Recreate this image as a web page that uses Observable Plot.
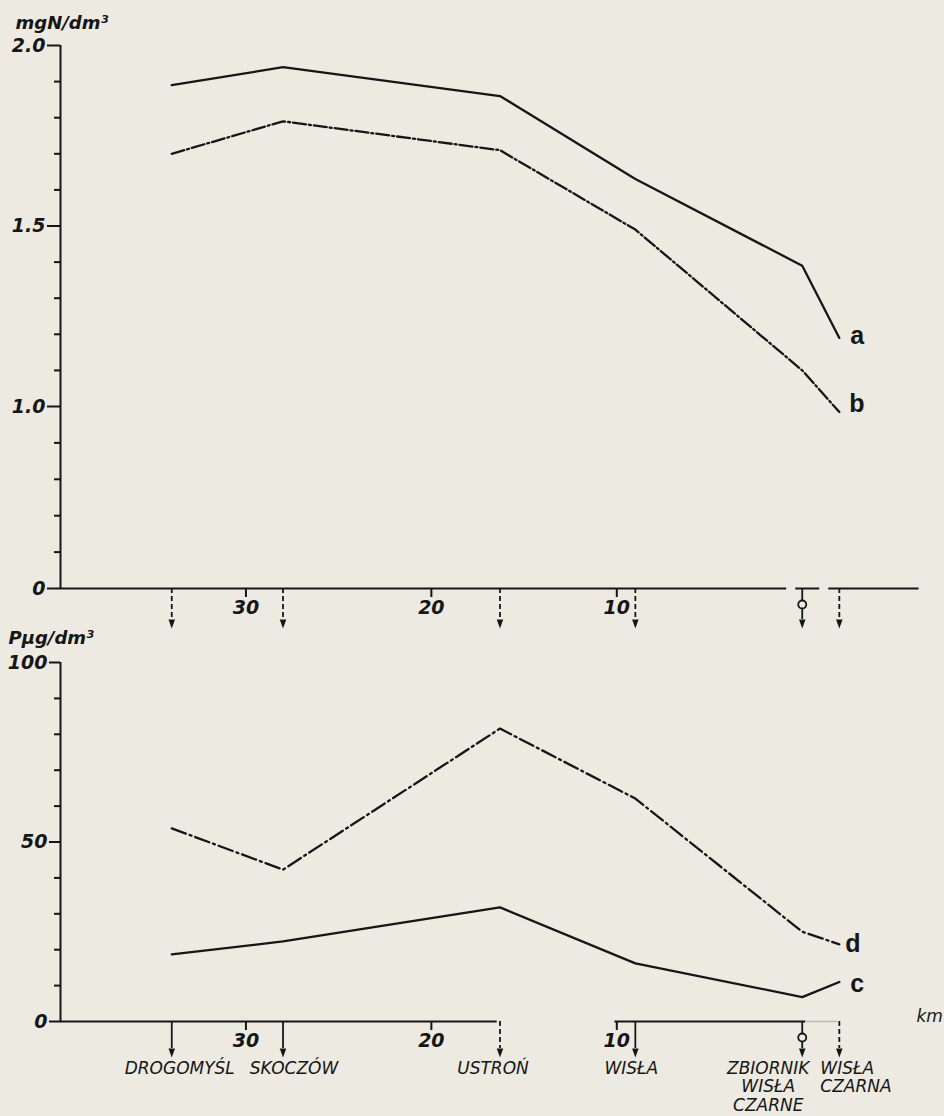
<!DOCTYPE html>
<html>
<head>
<meta charset="utf-8">
<script src="https://cdn.jsdelivr.net/npm/d3@7"></script>
<script src="https://cdn.jsdelivr.net/npm/@observablehq/plot@0.6"></script>
<style>
  html, body { margin: 0; padding: 0; background: #eceae1; }
  #wrap { position: relative; width: 944px; height: 1116px; overflow: hidden; }
  #top, #bottom { position: absolute; left: 0; }
  #top { top: 0; }
  #bottom { top: 600px; }
  svg { overflow: visible; background: transparent; }
</style>
</head>
<body>
<div id="wrap"><div id="top"></div><div id="bottom"></div></div>
<script>
// ---- data ----
const stations = ["DROGOMYŚL", "SKOCZÓW", "USTROŃ", "WISŁA", "ZBIORNIK\nWISŁA\nCZARNE", "WISŁA\nCZARNA"];
const stationKm = [34, 28, 16.3, 9.0, 0, -2];
const nitrogenA = [1.89, 1.94, 1.86, 1.63, 1.39, 1.19];
const nitrogenB = [1.70, 1.79, 1.71, 1.49, 1.10, 0.97];
const phosphorusC = [18.7, 22.3, 31.8, 16.2, 6.8, 11.0];
const phosphorusD = [53.8, 42.3, 81.6, 62.1, 25.0, 21.5];
const kmTicks = [30, 20, 10];
const nMajorTicks = [0, 1, 1.5, 2];
const nMajorLabels = ["0", "1.0", "1.5", "2.0"];
const nMinorTicks = [0.2, 0.4, 0.6, 0.8, 1.1, 1.2, 1.3, 1.4, 1.6, 1.7, 1.8, 1.9];
const pMajorTicks = [0, 50, 100];
const pMinorTicks = [10, 20, 30, 40, 60, 70, 80, 90];
const xDomain = [40, -6];
const nDomain = [0, 1, 2];
const pDomain = [0, 100];
const topAxisSegments = [[40, 0.84], [0.35, -0.94], [-1.43, -6.3]];
const bottomAxisSegments = [[40, 16.45], [10.1, -0.19]];
const bottomAxisBreak = [[-0.19, -1.9]];

// ---- styling ----
const INK = "#161616";
const BG = "#eceae1";
const FONT = "DejaVu Sans";
const rows = stations.map((s, i) => ({station: s, km: stationKm[i], a: nitrogenA[i], b: nitrogenB[i], c: phosphorusC[i], d: phosphorusD[i]}));
const last = rows[rows.length - 1];
const reservoir = rows.filter(r => r.station.startsWith("ZBIORNIK"));
const downTriangle = {
  draw(context, size) {
    const r = Math.sqrt(size / Math.PI);
    context.moveTo(-0.72 * r, -r);
    context.lineTo(0.72 * r, -r);
    context.lineTo(0, r);
    context.closePath();
  }
};
const tickText = {fontSize: 19, fontStyle: "italic", fontWeight: "bold", fontFamily: FONT};

function stationArrows(frameH, lineLen, dashedSet) {
  const solid = rows.filter(r => !dashedSet.has(r.station));
  const dashed = rows.filter(r => dashedSet.has(r.station));
  return [
    Plot.ruleX(solid, {x: "km", insetTop: frameH, insetBottom: -lineLen, stroke: INK, strokeWidth: 1.8}),
    Plot.ruleX(dashed, {x: "km", insetTop: frameH, insetBottom: -lineLen, stroke: INK, strokeWidth: 1.8, strokeDasharray: "5,3"}),
    Plot.dot(rows, {x: "km", frameAnchor: "bottom", dy: lineLen + 4.5, r: 4.5, symbol: downTriangle, fill: INK, stroke: "none"}),
    Plot.dot(reservoir, {x: "km", frameAnchor: "bottom", dy: 16, r: 4, fill: BG, stroke: INK, strokeWidth: 1.8})
  ];
}

// ---- top panel: mgN/dm3 ----
const topH = 650, topMT = 45, topMB = 62;
const topPlot = Plot.plot({
  width: 944, height: topH,
  marginTop: topMT, marginBottom: topMB, marginLeft: 60, marginRight: 31,
  style: {background: "transparent", overflow: "visible", fontFamily: FONT, color: INK},
  x: {domain: xDomain},
  y: {type: "linear", domain: nDomain, range: [topH - topMB, 406, topMT]},
  marks: [
    Plot.ruleX([xDomain[0]], {stroke: INK, strokeWidth: 2}),
    Plot.ruleY(topAxisSegments, {x1: d => d[0], x2: d => d[1], y: () => 0, stroke: INK, strokeWidth: 2}),
    Plot.axisY({ticks: nMajorTicks, tickFormat: d => nMajorLabels[nMajorTicks.indexOf(d)], tickSize: 13, tickPadding: 2, strokeWidth: 2, label: null, ...tickText}),
    Plot.axisY({ticks: nMinorTicks, tickFormat: () => "", tickSize: 6, strokeWidth: 2, label: null}),
    Plot.axisX({ticks: kmTicks, tickSize: 9, tickPadding: 3, strokeWidth: 2, label: null, ...tickText}),
    ...stationArrows(topH - topMT - topMB, 31, new Set(stations.filter(s => !s.startsWith("ZBIORNIK")))),
    Plot.line(rows, {x: "km", y: "a", stroke: INK, strokeWidth: 2.3}),
    Plot.line(rows, {x: "km", y: "b", stroke: INK, strokeWidth: 2.3, strokeDasharray: "13,3,2,3"}),
    Plot.text([last], {x: "km", y: "a", text: () => "a", dx: 11, dy: -2, textAnchor: "start", fontSize: 25, fontWeight: "bold", fontFamily: "Liberation Sans"}),
    Plot.text([last], {x: "km", y: "b", text: () => "b", dx: 10, dy: -8, textAnchor: "start", fontSize: 25, fontWeight: "bold", fontFamily: "Liberation Sans"}),
    Plot.text(["mgN/dm³"], {frameAnchor: "top-left", textAnchor: "start", dx: -45, dy: -29, fontSize: 18, fontWeight: "bold", fontStyle: "italic", fontFamily: FONT})
  ]
});
document.getElementById("top").append(topPlot);

// ---- bottom panel: Pµg/dm3 ----
const botH = 516, botMT = 62, botMB = 95;
const labelText = {frameAnchor: "bottom", lineAnchor: "top", dy: 39, fontSize: 17, fontStyle: "italic", fontFamily: FONT, lineHeight: 1.1};
const botPlot = Plot.plot({
  width: 944, height: botH,
  marginTop: botMT, marginBottom: botMB, marginLeft: 60, marginRight: 31,
  style: {background: "transparent", overflow: "visible", fontFamily: FONT, color: INK},
  x: {domain: xDomain},
  y: {type: "linear", domain: pDomain},
  marks: [
    Plot.ruleX([xDomain[0]], {stroke: INK, strokeWidth: 2}),
    Plot.ruleY(bottomAxisSegments, {x1: d => d[0], x2: d => d[1], y: () => 0, stroke: INK, strokeWidth: 2}),
    Plot.ruleY(bottomAxisBreak, {x1: d => d[0], x2: d => d[1], y: () => 0, stroke: "#b9b8b2", strokeWidth: 1.5}),
    Plot.axisY({ticks: pMajorTicks, tickSize: 11, tickPadding: 2, strokeWidth: 2, label: null, ...tickText}),
    Plot.axisY({ticks: pMinorTicks, tickFormat: () => "", tickSize: 6, strokeWidth: 2, label: null}),
    Plot.axisX({ticks: kmTicks, tickSize: 9, tickPadding: 3, strokeWidth: 2, label: null, ...tickText}),
    ...stationArrows(botH - botMT - botMB, 27, new Set(["USTROŃ", "WISŁA\nCZARNA"])),
    Plot.line(rows, {x: "km", y: "c", stroke: INK, strokeWidth: 2.3}),
    Plot.line(rows, {x: "km", y: "d", stroke: INK, strokeWidth: 2.3, strokeDasharray: "15,4,2,4"}),
    Plot.text([last], {x: "km", y: "c", text: () => "c", dx: 11, dy: 2, textAnchor: "start", fontSize: 25, fontWeight: "bold", fontFamily: "Liberation Sans"}),
    Plot.text([last], {x: "km", y: "d", text: () => "d", dx: 6, dy: 0, textAnchor: "start", fontSize: 25, fontWeight: "bold", fontFamily: "Liberation Sans"}),
    Plot.text(["Pµg/dm³"], {frameAnchor: "top-left", textAnchor: "start", dx: -52, dy: -31, fontSize: 18, fontWeight: "bold", fontStyle: "italic", fontFamily: FONT}),
    Plot.text(["km"], {frameAnchor: "bottom-right", textAnchor: "start", dx: 3, dy: 0, fontSize: 17, fontStyle: "italic", fontFamily: FONT}),
    Plot.text(rows.filter(r => r.station === "DROGOMYŚL"), {x: "km", text: "station", dx: 8, ...labelText}),
    Plot.text(rows.filter(r => r.station === "SKOCZÓW"), {x: "km", text: "station", dx: 11, ...labelText}),
    Plot.text(rows.filter(r => r.station === "USTROŃ"), {x: "km", text: "station", dx: -7, ...labelText}),
    Plot.text(rows.filter(r => r.station === "WISŁA"), {x: "km", text: "station", dx: -4, ...labelText}),
    Plot.text(reservoir, {x: "km", text: "station", dx: -34, ...labelText}),
    Plot.text(rows.filter(r => r.station === "WISŁA\nCZARNA"), {x: "km", text: "station", dx: -19, textAnchor: "start", ...labelText})
  ]
});
document.getElementById("bottom").append(botPlot);
</script>
</body>
</html>
